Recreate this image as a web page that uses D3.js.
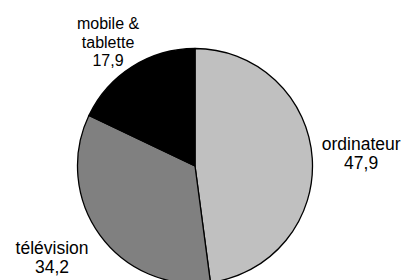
<!DOCTYPE html>
<html>
<head>
<meta charset="utf-8">
<script src="https://cdn.jsdelivr.net/npm/d3@7"></script>
<style>
  body { margin: 0; background: #fff; }
  text { font-family: "Liberation Sans", Arial, sans-serif; fill: #000; }
</style>
</head>
<body>
<div id="app"></div>
<script>
const categories = ["ordinateur", "télévision", "mobile & tablette"];
const values = [47.9, 34.2, 17.9];
const labelLines = [["ordinateur"], ["télévision"], ["mobile &", "tablette"]];
const valueLabels = ["47,9", "34,2", "17,9"];
const colors = ["#c0c0c0", "#808080", "#000000"];

const screen = { width: 405, height: 280 };
const pieConfig = { cx: 195, cy: 166, radius: 117.5, strokeWidth: 1.3 };
// label placement: radius of anchor + small nudges, like a hand-placed label
const labelConfig = [
  { r: 167, dx: -0.5, dy: -2, size: 17.5, lh: 19 },
  { r: 160, dx: -13.5, dy: -3, size: 17.5, lh: 19 },
  { r: 150, dx: -7, dy: 3, size: 16, lh: 18.5 }
];

const data = categories.map((c, i) => ({
  name: c,
  value: values[i],
  lines: labelLines[i].concat([valueLabels[i]]),
  color: colors[i]
}));

const svg = d3
  .select("#app")
  .append("svg")
  .attr("width", screen.width)
  .attr("height", screen.height);

const group = svg
  .append("g")
  .attr("transform", `translate(${pieConfig.cx},${pieConfig.cy})`);

const pie = d3.pie().sort(null).value((d) => d.value);
const arcs = pie(data);

const arc = d3.arc().innerRadius(0).outerRadius(pieConfig.radius);

group
  .selectAll("path")
  .data(arcs)
  .enter()
  .append("path")
  .attr("d", arc)
  .attr("fill", (d) => d.data.color)
  .attr("stroke", "#000")
  .attr("stroke-width", pieConfig.strokeWidth)
  .attr("stroke-linejoin", "round");

const label = group
  .selectAll("text")
  .data(arcs)
  .enter()
  .append("text")
  .attr("text-anchor", "middle")
  .attr("font-size", (d, i) => labelConfig[i].size)
  .attr("transform", (d, i) => {
    const cfg = labelConfig[i];
    const [x, y] = d3.arc().innerRadius(cfg.r).outerRadius(cfg.r).centroid(d);
    const n = d.data.lines.length;
    return `translate(${x + cfg.dx},${y + cfg.dy - ((n - 1) * cfg.lh) / 2})`;
  });

label
  .selectAll("tspan")
  .data((d, i) => d.data.lines.map((line) => ({ line, lh: labelConfig[i].lh })))
  .enter()
  .append("tspan")
  .attr("x", 0)
  .attr("dy", (d, i) => (i === 0 ? "0.35em" : d.lh))
  .text((d) => d.line);
</script>
</body>
</html>
